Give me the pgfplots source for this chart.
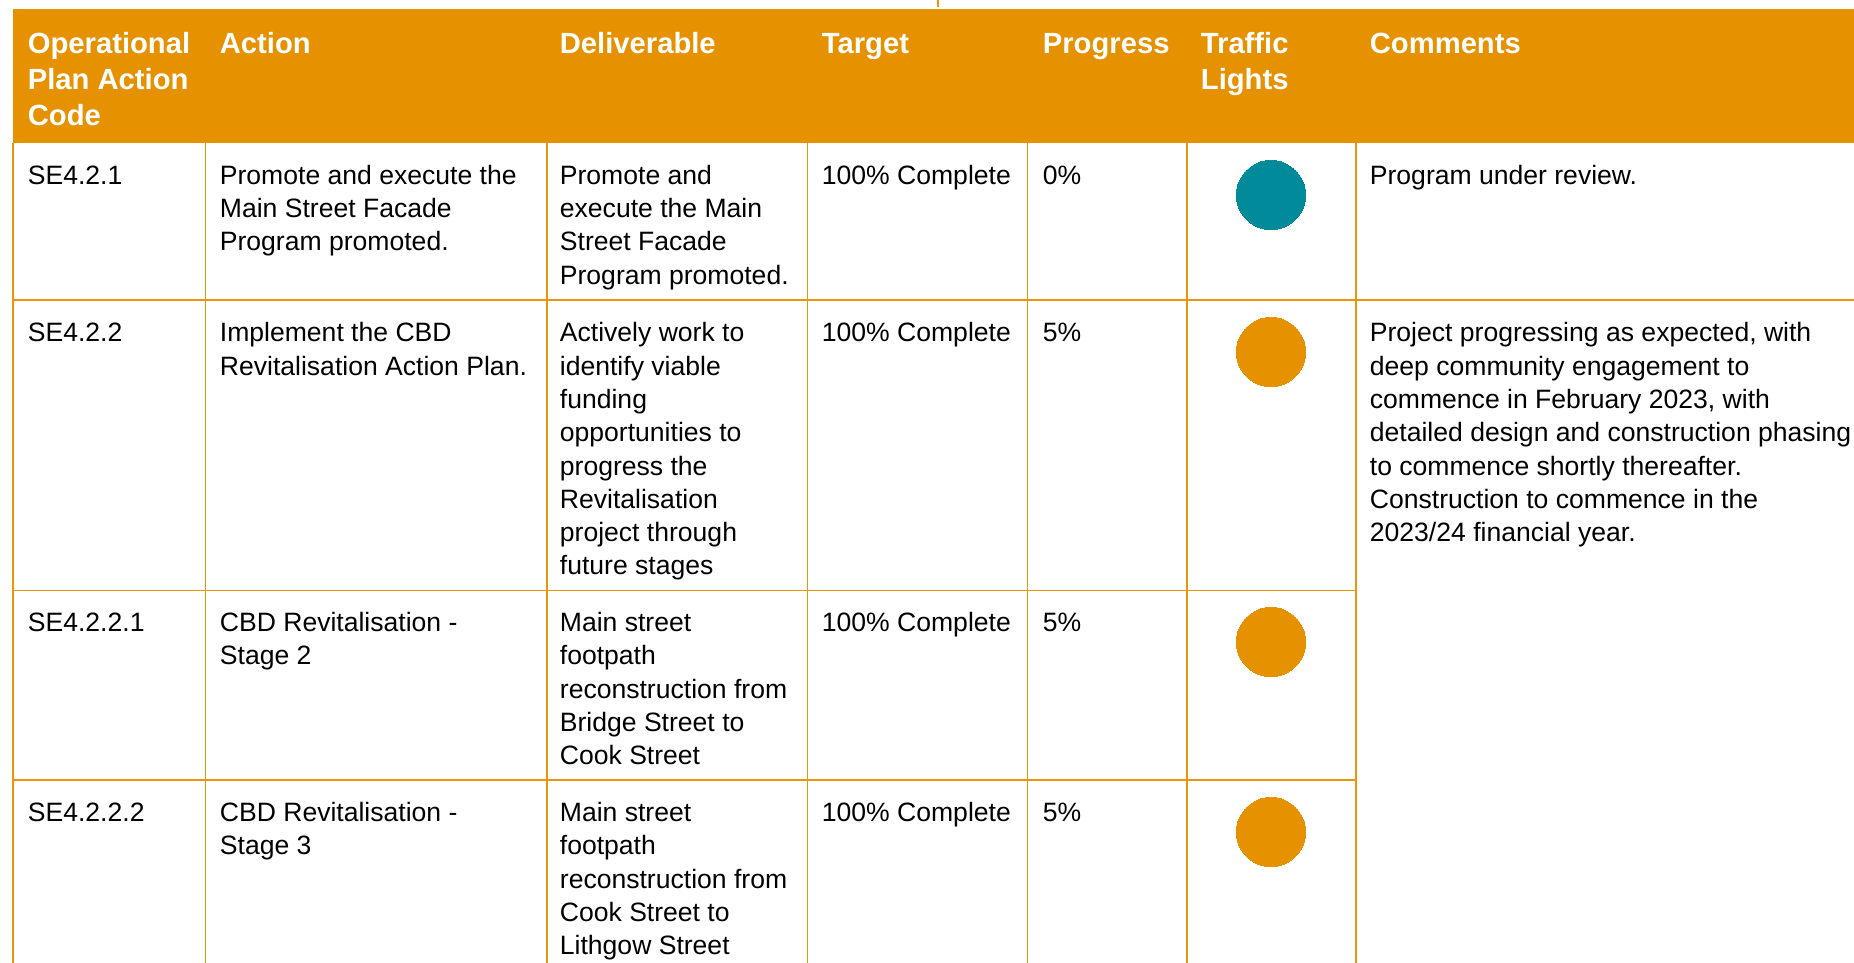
\documentclass[border=0pt]{standalone}
\usepackage{pgfplots}
\pgfplotsset{compat=1.18}
\usepackage{fontspec}
\setmainfont{Liberation Sans}
\definecolor{hdr}{HTML}{E59100}
\definecolor{tl}{HTML}{008A9A}
\definecolor{gridc}{HTML}{E8960A}
\newcommand{\B}[3]{\node[anchor=base west,inner sep=0pt,text=white,font=\bfseries\fontsize{14.6}{17}\selectfont] at (axis cs:#1,#2) {#3};}
\newcommand{\T}[3]{\node[anchor=base west,inner sep=0pt,text=black,font=\fontsize{13.28}{16}\selectfont] at (axis cs:#1,#2) {#3};}
\begin{document}
\begin{tikzpicture}
\begin{axis}[
  at={(0,0)}, anchor=south west,
  width=927pt, height=481.5pt, scale only axis,
  xmin=0, xmax=1854, ymin=0, ymax=963, y dir=reverse,
  hide axis, clip=false]
% header band
\addplot[fill=hdr, draw=none, forget plot] coordinates {(13,9.5) (1854,9.5) (1854,143) (13,143)} -- cycle;
% small mark at top
\addplot[gridc, line width=1pt, forget plot] coordinates {(938,0) (938,7)};
% vertical grid lines
\addplot[gridc, line width=0.6pt, forget plot] coordinates {(13,143) (13,963)};
\addplot[gridc, line width=0.6pt, forget plot] coordinates {(205.5,143) (205.5,963)};
\addplot[gridc, line width=0.6pt, forget plot] coordinates {(547,143) (547,963)};
\addplot[gridc, line width=0.6pt, forget plot] coordinates {(807.5,143) (807.5,963)};
\addplot[gridc, line width=0.6pt, forget plot] coordinates {(1027.5,143) (1027.5,963)};
\addplot[gridc, line width=0.6pt, forget plot] coordinates {(1187,143) (1187,963)};
\addplot[gridc, line width=0.6pt, forget plot] coordinates {(1356,143) (1356,963)};
% horizontal grid lines
\addplot[gridc, line width=0.9pt, forget plot] coordinates {(13,300) (1854,300)};
\addplot[gridc, line width=0.9pt, forget plot] coordinates {(13,590.5) (1356,590.5)};
\addplot[gridc, line width=0.9pt, forget plot] coordinates {(13,780) (1356,780)};
% traffic lights
\addplot[only marks, mark=*, color=tl, mark size=17.3pt, mark options={solid, fill=tl, draw=tl, line width=0pt}] coordinates {(1271,195)};
\addplot[only marks, mark=*, color=hdr, mark size=17.3pt, mark options={solid, fill=hdr, draw=hdr, line width=0pt}] coordinates {(1271,352) (1271,642) (1271,832)};
% header text
\B{27.5}{53.3}{Operational}
\B{27.5}{89.6}{Plan Action}
\B{27.5}{126}{Code}
\B{219.5}{53.3}{Action}
\B{559.5}{53.3}{Deliverable}
\B{821.5}{53.3}{Target}
\B{1042.5}{53.3}{Progress}
\B{1200.5}{53.3}{Traffic}
\B{1200.5}{89.6}{Lights}
\B{1369.5}{53.3}{Comments}
% row 1
\T{27.5}{184.3}{SE4.2.1}
\T{219.5}{184.3}{Promote and execute the}
\T{219.5}{217.6}{Main Street Facade}
\T{219.5}{250.9}{Program promoted.}
\T{559.5}{184.3}{Promote and}
\T{559.5}{217.6}{execute the Main}
\T{559.5}{250.9}{Street Facade}
\T{559.5}{284.2}{Program promoted.}
\T{821.5}{184.3}{100\% Complete}
\T{1042.5}{184.3}{0\%}
\T{1369.5}{184.3}{Program under review.}
% row 2
\T{27.5}{341.8}{SE4.2.2}
\T{219.5}{341.8}{Implement the CBD}
\T{219.5}{375.1}{Revitalisation Action Plan.}
\T{559.5}{341.8}{Actively work to}
\T{559.5}{375.1}{identify viable}
\T{559.5}{408.4}{funding}
\T{559.5}{441.7}{opportunities to}
\T{559.5}{475.0}{progress the}
\T{559.5}{508.3}{Revitalisation}
\T{559.5}{541.6}{project through}
\T{559.5}{574.9}{future stages}
\T{821.5}{341.8}{100\% Complete}
\T{1042.5}{341.8}{5\%}
\T{1369.5}{341.8}{Project progressing as expected, with}
\T{1369.5}{375.1}{deep community engagement to}
\T{1369.5}{408.4}{commence in February 2023, with}
\T{1369.5}{441.7}{detailed design and construction phasing}
\T{1369.5}{475.0}{to commence shortly thereafter.}
\T{1369.5}{508.3}{Construction to commence in the}
\T{1369.5}{541.6}{2023/24 financial year.}
% row 3
\T{27.5}{631.5}{SE4.2.2.1}
\T{219.5}{631.5}{CBD Revitalisation -}
\T{219.5}{664.8}{Stage 2}
\T{559.5}{631.5}{Main street}
\T{559.5}{664.8}{footpath}
\T{559.5}{698.1}{reconstruction from}
\T{559.5}{731.4}{Bridge Street to}
\T{559.5}{764.7}{Cook Street}
\T{821.5}{631.5}{100\% Complete}
\T{1042.5}{631.5}{5\%}
% row 4
\T{27.5}{821.5}{SE4.2.2.2}
\T{219.5}{821.5}{CBD Revitalisation -}
\T{219.5}{854.8}{Stage 3}
\T{559.5}{821.5}{Main street}
\T{559.5}{854.8}{footpath}
\T{559.5}{888.1}{reconstruction from}
\T{559.5}{921.4}{Cook Street to}
\T{559.5}{954.7}{Lithgow Street}
\T{821.5}{821.5}{100\% Complete}
\T{1042.5}{821.5}{5\%}
\end{axis}
\pgfresetboundingbox
\path[use as bounding box] (0,0) rectangle (927pt,481.5pt);
\end{tikzpicture}
\end{document}
